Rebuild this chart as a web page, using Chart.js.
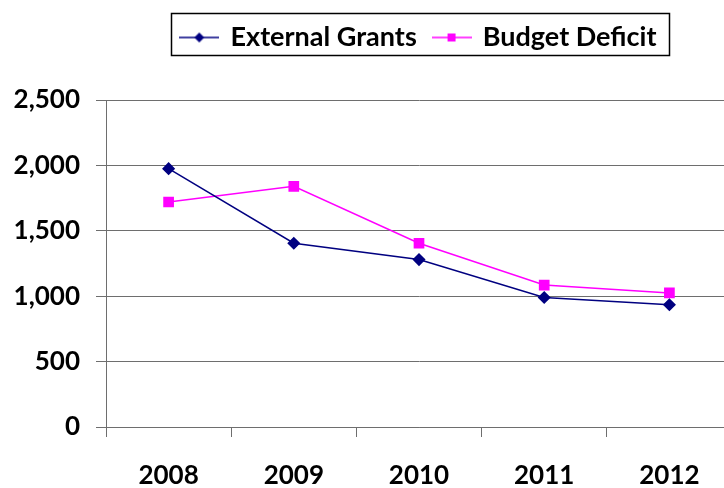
<!DOCTYPE html>
<html>
<head>
<meta charset="utf-8">
<script src="https://cdn.jsdelivr.net/npm/chart.js@4.4.1/dist/chart.umd.min.js"></script>
<style>
  html, body { margin: 0; padding: 0; background: #fff; overflow: hidden; }
  #wrap { width: 740px; height: 488px; }
</style>
</head>
<body>
<div id="wrap"><canvas id="c" width="740" height="488"></canvas></div>
<script>
const years = ['2008', '2009', '2010', '2011', '2012'];
const externalGrants = [1975, 1405, 1280, 990, 935];
const budgetDeficit = [1720, 1840, 1405, 1085, 1025];
const yTicks = [0, 500, 1000, 1500, 2000, 2500];

const NAVY = '#000080';
const MAGENTA = '#FF00FF';
const GRID = '#6e6e6e';
const FONT = 'Lato, "Open Sans", sans-serif';
const LEGEND_TOP = 13;

// small legend swatch: a line segment with the series marker in the middle
function swatch(color, shape) {
  const c = document.createElement('canvas');
  c.width = 40; c.height = 14;
  const g = c.getContext('2d');
  g.strokeStyle = color; g.lineWidth = 1.5;
  g.beginPath(); g.moveTo(0, 7); g.lineTo(40, 7); g.stroke();
  g.fillStyle = color;
  g.beginPath();
  if (shape === 'diamond') {
    g.moveTo(20, 2); g.lineTo(25, 7); g.lineTo(20, 12); g.lineTo(15, 7);
  } else {
    g.rect(16, 3, 8, 8);
  }
  g.closePath(); g.fill();
  return c;
}

// legend sits centred over the plot, up in the top margin, inside a frame
const legendFrame = {
  id: 'legendFrame',
  afterLayout(chart) {
    const lg = chart.legend;
    if (!lg) return;
    const h = lg.bottom - lg.top;
    lg.top = LEGEND_TOP + 21 - h / 2;
    lg.bottom = lg.top + h;
  },
  afterDraw(chart) {
    const lg = chart.legend;
    if (!lg || !lg.legendHitBoxes || !lg.legendHitBoxes.length) return;
    const boxes = lg.legendHitBoxes;
    let l = Infinity, r = -Infinity;
    boxes.forEach(b => { l = Math.min(l, b.left); r = Math.max(r, b.left + b.width); });
    const ctx = chart.ctx;
    ctx.save();
    ctx.strokeStyle = '#000';
    ctx.lineWidth = 1.5;
    ctx.strokeRect(Math.round(l - 11) + 0.5, LEGEND_TOP + 0.5, Math.round(r - l + 23), 42);
    ctx.restore();
  }
};

new Chart(document.getElementById('c'), {
  type: 'line',
  data: {
    labels: years,
    datasets: [
      {
        label: 'External Grants',
        data: externalGrants,
        borderColor: NAVY,
        backgroundColor: NAVY,
        borderWidth: 1.5,
        pointStyle: 'rectRot',
        pointRadius: 5.5,
        pointHoverRadius: 5.5,
        tension: 0
      },
      {
        label: 'Budget Deficit',
        data: budgetDeficit,
        borderColor: MAGENTA,
        backgroundColor: MAGENTA,
        borderWidth: 1.5,
        pointStyle: 'rect',
        pointRadius: 6.5,
        pointHoverRadius: 6.5,
        tension: 0
      }
    ]
  },
  options: {
    responsive: false,
    animation: false,
    events: [],
    layout: { padding: { top: 4, left: 0, right: 0, bottom: 0 } },
    plugins: {
      tooltip: { enabled: false },
      legend: {
        position: 'top',
        fullSize: false,
        labels: {
          usePointStyle: true,
          pointStyleWidth: 35.5,
          color: '#000',
          padding: 17,
          font: { family: FONT, size: 27, weight: 'bold' },
          generateLabels(chart) {
            return chart.data.datasets.map((ds, i) => ({
              text: ds.label,
              fillStyle: ds.borderColor,
              strokeStyle: ds.borderColor,
              lineWidth: 0,
              pointStyle: swatch(ds.borderColor, i === 0 ? 'diamond' : 'square'),
              hidden: false,
              datasetIndex: i,
              fontColor: '#000'
            }));
          }
        }
      }
    },
    scales: {
      x: {
        offset: true,
        grid: {
          offset: true,
          drawOnChartArea: false,
          drawTicks: true,
          tickLength: 10,
          color: GRID,
          lineWidth: 1
        },
        border: { color: GRID, width: 1 },
        ticks: {
          color: '#000',
          padding: 23,
          maxRotation: 0,
          font: { family: FONT, size: 26, weight: 'bold' }
        },
        afterFit(scale) { scale.height = 61; }
      },
      y: {
        min: 0,
        max: 2500,
        afterBuildTicks(scale) { scale.ticks = yTicks.map(v => ({ value: v })); },
        grid: {
          color: GRID,
          lineWidth: 1,
          drawTicks: true,
          tickLength: 10
        },
        border: { color: GRID, width: 1 },
        ticks: {
          color: '#000',
          padding: 16,
          font: { family: FONT, size: 26, weight: 'bold' },
          callback: v => v.toLocaleString('en-US')
        },
        afterFit(scale) {
          scale.width = 106;
          scale.paddingTop = 100;
        }
      }
    }
  },
  plugins: [legendFrame]
});
</script>
</body>
</html>
